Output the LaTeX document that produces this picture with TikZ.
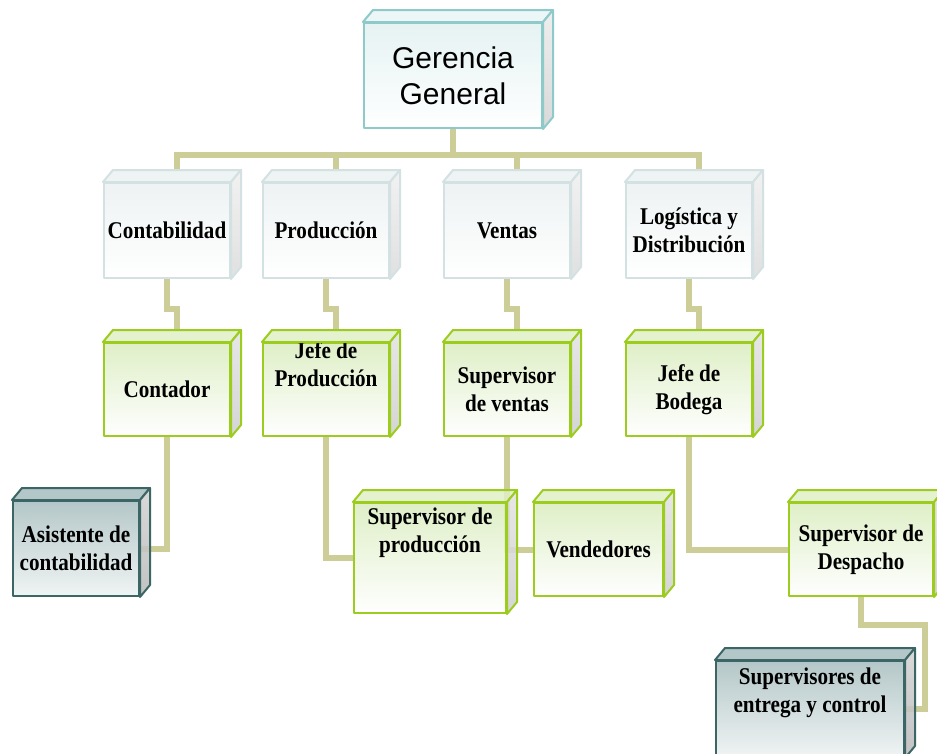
\documentclass[tikz,border=0pt]{standalone}
\usepackage{fontspec}
\usepackage{tikz}
\usetikzlibrary{calc,backgrounds}
\newfontfamily\cajafont{Liberation Serif}[FakeStretch=0.88]
\newfontfamily\gerfont{Liberation Sans}
\definecolor{caqui}{RGB}{205,205,152}
\definecolor{gerborde}{RGB}{142,202,202}
\definecolor{gerfondo}{RGB}{226,241,241}
\definecolor{areaborde}{RGB}{212,225,226}
\definecolor{areafondo}{RGB}{236,241,242}
\definecolor{verdeborde}{RGB}{155,204,30}
\definecolor{verdefondo}{RGB}{218,237,190}
\definecolor{oscuraborde}{RGB}{60,102,102}
\definecolor{oscurafondo}{RGB}{168,190,191}
\tikzset{
	texto/.style={align=center,font=\cajafont\bfseries\fontsize{24}{28}\selectfont},
	caja/.style 2 args={draw,line width=2pt,line join=round,inner sep=0pt,anchor=north west,minimum width=#1,minimum height=#2,texto,fill opacity=.85,text opacity=1},
	ger/.style={draw=gerborde,top color=gerfondo,bottom color=white,font=\gerfont\fontsize{30}{36}\selectfont},
	area/.style={draw=areaborde,top color=areafondo,bottom color=white},
	verde/.style={draw=verdeborde,top color=verdefondo,bottom color=white},
	oscura/.style={draw=oscuraborde,top color=oscurafondo,bottom color=oscurafondo!20},
	ger tapa/.style={draw=gerborde,line width=2pt,line join=round,fill=gerfondo!70,fill opacity=.85},
	ger lado/.style={draw=gerborde,line width=2pt,line join=round,top color=gray!15,bottom color=gray!35,fill opacity=.85},
	area tapa/.style={draw=areaborde,line width=2pt,line join=round,fill=areafondo,fill opacity=.85},
	area lado/.style={draw=areaborde,line width=2pt,line join=round,top color=gray!12,bottom color=gray!28,fill opacity=.85},
	verde tapa/.style={draw=verdeborde,line width=2pt,line join=round,fill=verdefondo!85,fill opacity=.85},
	verde lado/.style={draw=verdeborde,line width=2pt,line join=round,top color=gray!22,bottom color=gray!38,fill opacity=.85},
	oscura tapa/.style={draw=oscuraborde,line width=2pt,line join=round,fill=oscurafondo,fill opacity=.85},
	oscura lado/.style={draw=oscuraborde,line width=2pt,line join=round,top color=gray!35,bottom color=gray!55,fill opacity=.85},
	conector/.style={draw=caqui,line width=6pt}
}
\begin{document}
\begin{tikzpicture}[x=1pt,y=-1pt]
	\useasboundingbox (0,0) rectangle (937,753);
	\clip (0,0) rectangle (937,753);

	\node [caja={178pt}{105pt},ger] (ger) at (363,22) {Gerencia\\General};

	\node [caja={126pt}{95pt},area] (cont) at (103,182) {Contabilidad};
	\node [caja={126pt}{95pt},area] (prod) at (262,182) {Producción};
	\node [caja={126pt}{95pt},area] (vent) at (443,182) {Ventas};
	\node [caja={126pt}{95pt},area] (logi) at (625,182) {Logística y\\Distribución};

	\node [caja={126pt}{93pt},verde] (conta) at (103,342) {Contador};
	\node [caja={126pt}{93pt},verde,label={[texto,yshift=25pt]center:{Jefe de\\Producción}}] (jp) at (262,342) {};
	\node [caja={126pt}{93pt},verde] (sv) at (443,342) {Supervisor\\de ventas};
	\node [caja={126pt}{93pt},verde] (jb) at (625,342) {Jefe de\\Bodega};

	\node [caja={126pt}{95pt},oscura] (asis) at (12,500) {Asistente de\\contabilidad};
	\node [caja={152pt}{110pt},verde,label={[texto,yshift=25pt]center:{Supervisor de\\producción}}] (sp) at (353,502) {};
	\node [caja={129pt}{93pt},verde] (vend) at (533,502) {Vendedores};
	\node [caja={144pt}{93pt},verde] (sd) at (788,502) {Supervisor de\\Despacho};
	\node [caja={188pt}{96pt},oscura,label={[texto,yshift=16pt]center:{Supervisores de\\entrega y control}}] (se) at (715,660) {};

	\foreach \n/\k in {ger/ger,cont/area,prod/area,vent/area,logi/area,conta/verde,jp/verde,sv/verde,jb/verde,asis/oscura,sp/verde,vend/verde,sd/verde,se/oscura}{
		\draw[\k\space tapa] (\n.north west) -- ++(10,-12) -- ($(\n.north east)+(10,-12)$) -- (\n.north east) -- cycle;
		\draw[\k\space lado] (\n.north east) -- ++(10,-12) -- ($(\n.south east)+(10,-12)$) -- (\n.south east) -- cycle;
	}

	\begin{scope}[on background layer]
		\fill[white] (0,0) rectangle (937,753);
		\foreach \n in {cont,prod,vent,logi}
			\draw[conector] (ger.south) -- ++(0,26) -| ($(\n.north)+(10,-12)$);
		\foreach \a/\b in {cont/conta,prod/jp,vent/sv,logi/jb}
			\draw[conector] (\a.south) -- ++(0,30) -| ($(\b.north)+(10,-12)$);
		\draw[conector] (conta.south) |- (asis.east);
		\draw[conector] (jp.south) |- (sp.west);
		\draw[conector] (sv.south) |- (vend.west);
		\draw[conector] (jb.south) |- (sd.west);
		\draw[conector] (sd.south) -- ++(0,28) -- ++(64,0) |- (se.east);
	\end{scope}
\end{tikzpicture}
\end{document}
